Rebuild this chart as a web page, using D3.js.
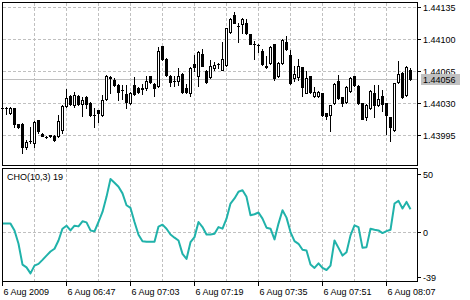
<!DOCTYPE html>
<html>
<head>
<meta charset="utf-8">
<title>EURUSD M1 - Chaikin Oscillator</title>
<script src="https://d3js.org/d3.v7.min.js"></script>
<style>
  body { margin: 0; background: #fff; }
  text { font: 9px "Liberation Sans", Arial, sans-serif; fill: #000; }
  .grid { stroke: #c0c0c0; stroke-dasharray: 3,2; shape-rendering: crispEdges; }
  .frame { fill: none; stroke: #000; shape-rendering: crispEdges; }
  .tick { stroke: #000; shape-rendering: crispEdges; }
</style>
</head>
<body>
<svg id="chart" width="470" height="300"></svg>
<script>
// one candle per minute, 6 Aug 2009 06:31 .. 08:13
const open = [1.44025,1.44025,1.44019,1.44025,1.44007,1.44007,1.43982,1.43988,1.43986,1.44011,
  1.43996,1.43993,1.43994,1.43994,1.43994,1.44001,1.44027,1.44038,1.44028,1.44038,
  1.44029,1.44037,1.44030,1.44017,1.44022,1.44017,1.44034,1.44058,1.44055,1.44050,
  1.44044,1.44040,1.44030,1.44050,1.44046,1.44046,1.44046,1.44059,1.44051,1.44049,
  1.44092,1.44078,1.44060,1.44054,1.44054,1.44062,1.44046,1.44041,1.44073,1.44059,
  1.44084,1.44065,1.44058,1.44068,1.44073,1.44066,1.44072,1.44108,1.44126,1.44114,
  1.44116,1.44117,1.44106,1.44094,1.44093,1.44087,1.44071,1.44074,1.44094,1.44059,
  1.44074,1.44097,1.44083,1.44057,1.44058,1.44069,1.44041,1.44059,1.44038,1.44038,
  1.44041,1.44019,1.44017,1.44030,1.44054,1.44037,1.44031,1.44043,1.44059,1.44049,
  1.44030,1.44015,1.44024,1.44041,1.44028,1.44038,1.44030,1.44015,1.44000,1.44053,
  1.44063,1.44039,1.44066];
const high = [1.44026,1.44026,1.44026,1.44025,1.44007,1.44008,1.43990,1.44004,1.44010,1.44011,
  1.43997,1.43994,1.43995,1.43995,1.44017,1.44028,1.44045,1.44039,1.44042,1.44039,
  1.44037,1.44038,1.44031,1.44025,1.44022,1.44039,1.44061,1.44059,1.44057,1.44051,
  1.44050,1.44050,1.44042,1.44058,1.44047,1.44051,1.44060,1.44060,1.44052,1.44091,
  1.44092,1.44079,1.44061,1.44059,1.44068,1.44063,1.44051,1.44069,1.44083,1.44087,
  1.44089,1.44066,1.44077,1.44075,1.44074,1.44097,1.44112,1.44123,1.44129,1.44118,
  1.44123,1.44122,1.44106,1.44098,1.44095,1.44089,1.44081,1.44092,1.44094,1.44075,
  1.44100,1.44103,1.44088,1.44070,1.44078,1.44069,1.44065,1.44060,1.44048,1.44043,
  1.44041,1.44019,1.44028,1.44052,1.44061,1.44037,1.44049,1.44058,1.44059,1.44050,
  1.44030,1.44029,1.44044,1.44050,1.44050,1.44044,1.44030,1.44015,1.44052,1.44076,
  1.44064,1.44070,1.44068];
const low = [1.44022,1.44018,1.44018,1.44004,1.44003,1.43975,1.43980,1.43986,1.43982,1.43997,
  1.43994,1.43992,1.43993,1.43988,1.43993,1.43997,1.44026,1.44028,1.44026,1.44028,
  1.44016,1.44025,1.44016,1.44004,1.44009,1.44016,1.44033,1.44041,1.44049,1.44033,
  1.44034,1.44024,1.44029,1.44039,1.44041,1.44040,1.44044,1.44052,1.44038,1.44048,
  1.44077,1.44060,1.44049,1.44049,1.44050,1.44041,1.44041,1.44038,1.44065,1.44049,
  1.44070,1.44052,1.44057,1.44066,1.44068,1.44066,1.44070,1.44107,1.44117,1.44097,
  1.44107,1.44106,1.44094,1.44078,1.44086,1.44072,1.44068,1.44073,1.44055,1.44058,
  1.44073,1.44088,1.44051,1.44054,1.44055,1.44038,1.44041,1.44041,1.44037,1.44037,
  1.44016,1.44013,1.43999,1.44029,1.44034,1.44027,1.44030,1.44042,1.44049,1.44029,
  1.44012,1.44011,1.44023,1.44015,1.44027,1.44021,1.43996,1.43988,1.43999,1.44052,
  1.44036,1.44038,1.44055];
const close = [1.44025,1.44024,1.44024,1.44007,1.44004,1.43982,1.43987,1.43988,1.44009,1.43999,
  1.43994,1.43993,1.43995,1.43989,1.44010,1.44027,1.44035,1.44029,1.44039,1.44029,
  1.44033,1.44029,1.44017,1.44017,1.44019,1.44033,1.44060,1.44057,1.44050,1.44042,
  1.44044,1.44031,1.44041,1.44040,1.44042,1.44045,1.44054,1.44053,1.44046,1.44087,
  1.44078,1.44061,1.44053,1.44054,1.44060,1.44042,1.44042,1.44068,1.44069,1.44086,
  1.44071,1.44053,1.44070,1.44072,1.44073,1.44078,1.44112,1.44122,1.44118,1.44114,
  1.44122,1.44107,1.44095,1.44094,1.44093,1.44073,1.44069,1.44091,1.44057,1.44074,
  1.44099,1.44089,1.44052,1.44062,1.44070,1.44047,1.44057,1.44042,1.44042,1.44042,
  1.44017,1.44016,1.44028,1.44051,1.44035,1.44030,1.44048,1.44057,1.44050,1.44030,
  1.44013,1.44028,1.44043,1.44028,1.44034,1.44029,1.44017,1.44004,1.44052,1.44062,
  1.44037,1.44069,1.44056];

// Chaikin oscillator CHO(10,3)
const cho = [7.0,7.0,7.0,1.1,-10.5,-28.5,-30.9,-36.1,-29.4,-27.9,
  -24.4,-20.7,-17.2,-14.8,-7.6,2.6,5.2,1.1,5.2,4.6,
  9.0,8.1,1.1,0.3,8.4,17.1,30.2,45.6,42.4,38.9,
  33.2,22.9,20.6,8.4,-2.6,-8.2,-8.7,-8.7,-8.7,4.4,
  6.1,2.6,-2.4,-5.2,-7.6,-19.2,-23.6,-9.1,-4.7,8.4,
  4.0,-2.4,-2.4,-1.7,4.0,2.6,11.3,24.4,28.8,34.6,
  36.0,30.2,14.2,15.1,16.6,11.3,3.5,2.6,-6.7,7.0,
  18.6,12.2,-0.3,-8.2,-10.5,-15.7,-16.3,-28.5,-31.4,-27.4,
  -31.4,-33.2,-29.4,-7.6,-14.0,-20.7,-17.8,-3.2,5.5,4.0,
  -14.0,-13.4,2.6,1.7,1.1,-1.2,0.5,1.7,24.4,26.7,
  20.1,25.8,19.4];

const priceTicks = [1.43995, 1.44030, 1.44065, 1.44100, 1.44135];
const choTicks = [-39, 0, 50];
const timeLabels = ["6 Aug 2009", "6 Aug 06:47", "6 Aug 07:03", "6 Aug 07:19",
  "6 Aug 07:35", "6 Aug 07:51", "6 Aug 08:07"];
const barsPerLabel = 16, barsPerGrid = 8;
const lastPrice = close[close.length - 1];

const svg = d3.select("#chart");
const n = close.length;
const left = 2, right = 417;
const main = { top: 2, bottom: 165 };
const sub = { top: 168, bottom: 281 };

const x = d3.scaleLinear().domain([0, n - 1]).range([2.5, 2.5 + 4 * (n - 1)]);
const y = d3.scaleLinear().domain([1.43995, 1.44135]).range([135, 7]);
const yc = d3.scaleLinear().domain([-39, 50]).range([276.7, 174]);
const row = v => Math.round(y(v));

// grid
const gridBars = d3.range(barsPerGrid, n, barsPerGrid);
[main, sub].forEach(p => {
  svg.append("g").selectAll("line").data(gridBars).join("line")
    .attr("class", "grid")
    .attr("x1", d => Math.floor(x(d)) + 0.5).attr("x2", d => Math.floor(x(d)) + 0.5)
    .attr("y1", p.top + 1).attr("y2", p.bottom);
});
svg.append("g").selectAll("line").data(priceTicks).join("line")
  .attr("class", "grid")
  .attr("x1", left + 1).attr("x2", right)
  .attr("y1", d => row(d) + 0.5).attr("y2", d => row(d) + 0.5);
svg.append("line").attr("class", "grid")
  .attr("x1", left + 1).attr("x2", right)
  .attr("y1", Math.round(yc(0)) + 0.5).attr("y2", Math.round(yc(0)) + 0.5);

// current price line
svg.append("line")
  .attr("x1", left + 1).attr("x2", right)
  .attr("y1", row(lastPrice) + 0.5).attr("y2", row(lastPrice) + 0.5)
  .attr("stroke", "#c0c0c0").attr("shape-rendering", "crispEdges");

// candles
const candles = svg.append("g").attr("shape-rendering", "crispEdges");
d3.range(n).forEach(i => {
  const cx = Math.floor(x(i)) + 0.5;
  const o = open[i], c = close[i];
  const hi = row(high[i]), lo = row(low[i]);
  const top = row(Math.max(o, c)), bot = row(Math.min(o, c));
  candles.append("line").attr("x1", cx).attr("x2", cx)
    .attr("y1", hi).attr("y2", lo + 1).attr("stroke", "#000");
  if (c > o && bot - top >= 2) {
    candles.append("rect").attr("x", cx - 1).attr("y", top + 0.5)
      .attr("width", 2).attr("height", bot - top)
      .attr("fill", "#fff").attr("stroke", "#000");
  } else {
    candles.append("rect").attr("x", cx - 1.5).attr("y", top)
      .attr("width", 3).attr("height", bot - top + 1).attr("fill", "#000");
  }
});

// oscillator line
svg.append("path")
  .datum(cho)
  .attr("fill", "none")
  .attr("stroke", "#20b2aa")
  .attr("stroke-width", 2)
  .attr("stroke-linejoin", "round")
  .attr("d", d3.line().x((d, i) => x(i)).y(d => yc(d)));

// frames
[main, sub].forEach(p => {
  svg.append("rect").attr("class", "frame")
    .attr("x", left + 0.5).attr("y", p.top + 0.5)
    .attr("width", right - left).attr("height", p.bottom - p.top);
});

// right price axis
const pAxis = svg.append("g");
priceTicks.forEach(t => {
  pAxis.append("line").attr("class", "tick")
    .attr("x1", right).attr("x2", right + 4)
    .attr("y1", row(t) + 0.5).attr("y2", row(t) + 0.5);
  pAxis.append("text").attr("x", right + 6).attr("y", row(t) + 0.5)
    .attr("dy", "0.35em").text(d3.format(".5f")(t));
});
pAxis.append("rect")
  .attr("x", right + 4).attr("y", row(lastPrice) - 5)
  .attr("width", 39).attr("height", 11).attr("fill", "#c0c0c0");
pAxis.append("text").attr("x", right + 6).attr("y", row(lastPrice) + 0.5)
  .attr("dy", "0.35em").text(d3.format(".5f")(lastPrice));

// right oscillator axis
choTicks.forEach(t => {
  const r = Math.round(yc(t)) + 0.5;
  svg.append("line").attr("class", "tick")
    .attr("x1", right).attr("x2", right + 4).attr("y1", r).attr("y2", r);
  svg.append("text").attr("x", right + 6).attr("y", r)
    .attr("dy", "0.35em").text(t);
});

svg.append("text").attr("x", 7).attr("y", 180)
  .text("CHO(10,3) " + Math.round(cho[n - 1]));

// time axis
timeLabels.forEach((lab, k) => {
  const tx = Math.floor(x(k * barsPerLabel)) + 0.5;
  svg.append("line").attr("class", "tick")
    .attr("x1", tx).attr("x2", tx).attr("y1", sub.bottom + 1).attr("y2", sub.bottom + 5);
  svg.append("text").attr("x", tx + 1).attr("y", 295).text(lab);
});
</script>
</body>
</html>
